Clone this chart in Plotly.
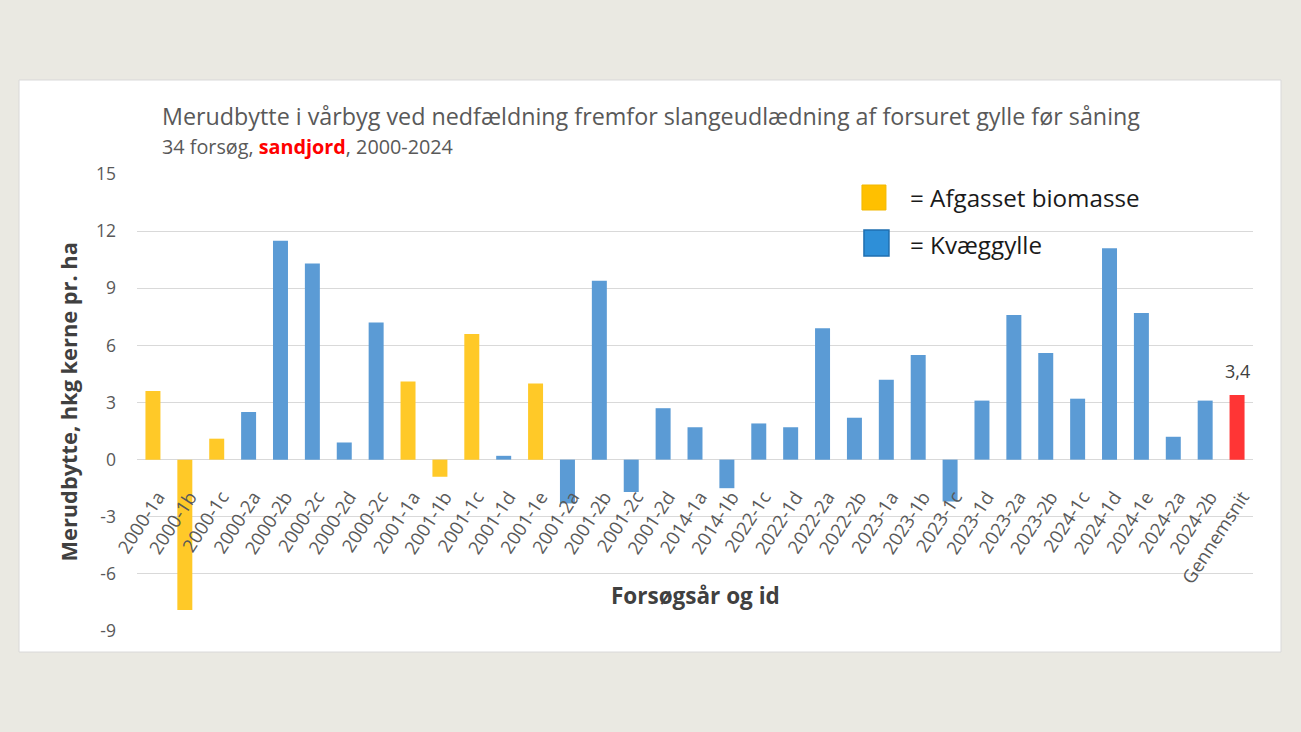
import plotly.graph_objects as go

# Forsøg og merudbytte (hkg kerne pr. ha)
categories = ["2000-1a", "2000-1b", "2000-1c", "2000-2a", "2000-2b", "2000-2c", "2000-2d",
              "2000-2c", "2001-1a", "2001-1b", "2001-1c", "2001-1d", "2001-1e", "2001-2a",
              "2001-2b", "2001-2c", "2001-2d", "2014-1a", "2014-1b", "2022-1c", "2022-1d",
              "2022-2a", "2022-2b", "2023-1a", "2023-1b", "2023-1c", "2023-1d", "2023-2a",
              "2023-2b", "2024-1c", "2024-1d", "2024-1e", "2024-2a", "2024-2b", "Gennemsnit"]
values = [3.6, -7.9, 1.1, 2.5, 11.5, 10.3, 0.9,
          7.2, 4.1, -0.9, 6.6, 0.2, 4.0, -2.3,
          9.4, -1.7, 2.7, 1.7, -1.5, 1.9, 1.7,
          6.9, 2.2, 4.2, 5.5, -2.2, 3.1, 7.6,
          5.6, 3.2, 11.1, 7.7, 1.2, 3.1, 3.4]
# A = afgasset biomasse, K = kvæggylle, G = gennemsnit
slurry = ["A", "A", "A", "K", "K", "K", "K",
          "K", "A", "A", "A", "K", "A", "K",
          "K", "K", "K", "K", "K", "K", "K",
          "K", "K", "K", "K", "K", "K", "K",
          "K", "K", "K", "K", "K", "K", "G"]
y_ticks = [-9, -6, -3, 0, 3, 6, 9, 12, 15]
y_ticklabels = ["-9", "-6", "-3", "0", "3", "6", "9", "12", "15"]

colors = {"A": "#FFC928", "K": "#5B9BD5", "G": "#FF3535"}
positions = list(range(len(categories)))

fig = go.Figure()
for kind in ["A", "K", "G"]:
    xs = [p for p, s in zip(positions, slurry) if s == kind]
    ys = [v for v, s in zip(values, slurry) if s == kind]
    fig.add_trace(go.Bar(x=xs, y=ys, marker_color=colors[kind], marker_line_width=0,
                         showlegend=False, hoverinfo="x+y"))

font = "'Open Sans', sans-serif"
ann = []
ann.append(dict(text="Merudbytte i vårbyg ved nedfældning fremfor slangeudlædning af forsuret gylle før såning",
                x=0.0206, y=1.127, xanchor="left", yanchor="middle",
                font=dict(size=23.3, color="#595959")))
ann.append(dict(text="34 forsøg, <b><span style='color:#FF0000'>sandjord</span></b>, 2000-2024",
                x=0.0206, y=1.061, xanchor="left", yanchor="middle",
                font=dict(size=19.8, color="#595959")))
ann.append(dict(text="<b>Merudbytte, hkg kerne pr. ha</b>", textangle=-90,
                x=-0.0618, y=0.5, xanchor="center", yanchor="middle",
                font=dict(size=21.8, color="#404040")))
ann.append(dict(text="<b>Forsøgsår og id</b>", x=0.5003, y=0.0766,
                xanchor="center", yanchor="middle", font=dict(size=22.5, color="#404040")))
ann.append(dict(text="= Afgasset biomasse", x=0.6909, y=0.9475, xanchor="left", yanchor="middle",
                font=dict(size=24.2, color="#1A1A1A")))
ann.append(dict(text="= Kvæggylle", x=0.6909, y=0.8468, xanchor="left", yanchor="middle",
                font=dict(size=24.2, color="#1A1A1A")))
for a in ann:
    a.update(xref="paper", yref="paper", showarrow=False)
# data label on the average bar
ann.append(dict(text=f"{values[-1]:.1f}".replace(".", ","), x=positions[-1], y=values[-1],
                xref="x", yref="y", showarrow=False, yanchor="bottom", yshift=10,
                font=dict(size=18, color="#404040")))

shapes = [
    # white chart box
    dict(type="rect", xref="paper", yref="paper", x0=-0.1057, x1=1.0251, y0=-0.046, y1=1.2057,
         fillcolor="white", line=dict(color="#D9D9D9", width=1), layer="below"),
    # legend squares
    dict(type="rect", xref="paper", yref="paper", x0=0.6496, x1=0.6711, y0=0.9212, y1=0.9759,
         fillcolor="#FFC000", line=dict(color="#F2B800", width=1), layer="above"),
    dict(type="rect", xref="paper", yref="paper", x0=0.6514, x1=0.6738, y0=0.8206, y1=0.8775,
         fillcolor="#2E8FD8", line=dict(color="#1F6FB0", width=1.5), layer="above"),
]

zero_pos = (0 - y_ticks[0]) / (y_ticks[-1] - y_ticks[0])

fig.update_layout(
    width=1301, height=732,
    margin=dict(l=137, r=48, t=174, b=101),
    paper_bgcolor="#EAE9E2", plot_bgcolor="rgba(0,0,0,0)",
    font=dict(family=font, color="#595959"),
    bargap=0.53,
    annotations=ann, shapes=shapes,
    xaxis=dict(tickmode="array", tickvals=positions, ticktext=categories, tickangle=-57,
               tickfont=dict(size=18.5, color="#595959"), range=[-0.5, len(categories) - 0.5],
               anchor="free", position=zero_pos, showline=False, showgrid=False, ticks="",
               ticklabelstandoff=22, ticklabelshift=5),
    yaxis=dict(range=[y_ticks[0], y_ticks[-1]], tickmode="array", tickvals=y_ticks,
               ticktext=y_ticklabels, showgrid=True,
               gridcolor="#D9D9D9", gridwidth=1, zeroline=False,
               tickfont=dict(size=17.5, color="#595959"), ticks="", ticklabelstandoff=20),
)

fig.write_html("out.html", config={"displayModeBar": False},
               post_script="document.body.style.margin='0';document.body.style.overflow='hidden';")
